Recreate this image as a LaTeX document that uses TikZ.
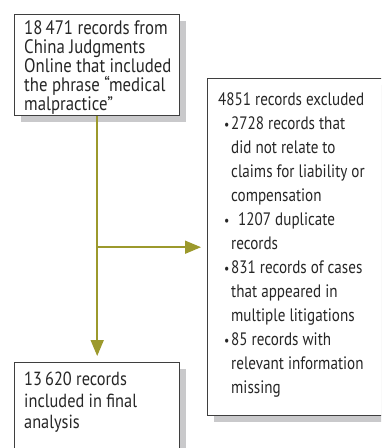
\documentclass[tikz,border=0pt]{standalone}
\usepackage{fontspec}
\setmainfont{PT Sans}
\newfontfamily\narrowA[FakeStretch=0.86]{PT Sans}
\newfontfamily\narrowB[FakeStretch=0.84]{PT Sans}
\usepackage{tikz}
\usetikzlibrary{
arrows.meta,
positioning,
calc,
shadows
}
\definecolor{FlowOlive}{HTML}{9C992C}
\definecolor{BoxEdge}{HTML}{3F3F3F}
\definecolor{ShadowGray}{HTML}{C9C9CB}
\newcommand{\recbullet}{\hspace*{6pt}\makebox[7pt][l]{{\fontsize{14}{14}\selectfont\textbullet}}}
\newcommand{\recindent}{\hspace*{13pt}}

\begin{document}
\begin{tikzpicture}[x=1pt,y=-1pt,>=Latex,
    recordbox/.style={draw=BoxEdge, fill=white, line width=1.4pt, anchor=north west, inner sep=0pt,
        drop shadow={shadow xshift=6pt, shadow yshift=-6pt, fill=ShadowGray, opacity=1}},
    recordtext/.style={anchor=north west, inner sep=0pt, align=left, text=black!85},
    flowarrow/.style={-{Triangle[length=16pt,width=13pt]}, draw=FlowOlive, fill=FlowOlive, line width=1.6pt}
]
        \clip (0,0) rectangle (381,448);
        \fill[white] (0,0) rectangle (381,448);
        % boxes
        \node[recordbox, minimum width=165pt, minimum height=101pt] (source) at (14,14) {};
        \node[recordbox, minimum width=180pt, minimum height=337pt] (excluded) at (207,78) {};
        \node[recordbox, minimum width=165pt, minimum height=95pt] (final) at (14,362) {};
        % texts
        \node[recordtext, font=\narrowA\fontsize{19.5}{19}\selectfont] (sourcetext) at ([shift={(10,6)}]source.north west)
            {18\,471 records from\\China Judgments\\Online that included\\the phrase “medical\\malpractice”};
        \node[recordtext, font=\narrowB\fontsize{18}{24}\selectfont] (excludedtext) at ([shift={(11,14)}]excluded.north west)
            {4851 records excluded\\
            \recbullet 2728 records that\\
            \recindent did not relate to\\
            \recindent claims for liability or\\
            \recindent compensation\\
            \recbullet\, 1207 duplicate\\
            \recindent records\\
            \recbullet 831 records of cases\\
            \recindent that appeared in\\
            \recindent multiple litigations\\
            \recbullet 85 records with\\
            \recindent relevant information\\
            \recindent missing};
        \node[recordtext, font=\narrowA\fontsize{19}{21.5}\selectfont] (finaltext) at ([shift={(10,10)}]final.north west)
            {13\,620 records\\included in final\\analysis};
        % connectors
        \draw[flowarrow, shorten >=6pt] (source.south) -- (final.north);
        \draw[flowarrow, shorten >=6pt] (source.south |- excluded.west) -- (excluded.west);
    \end{tikzpicture}
\end{document}
